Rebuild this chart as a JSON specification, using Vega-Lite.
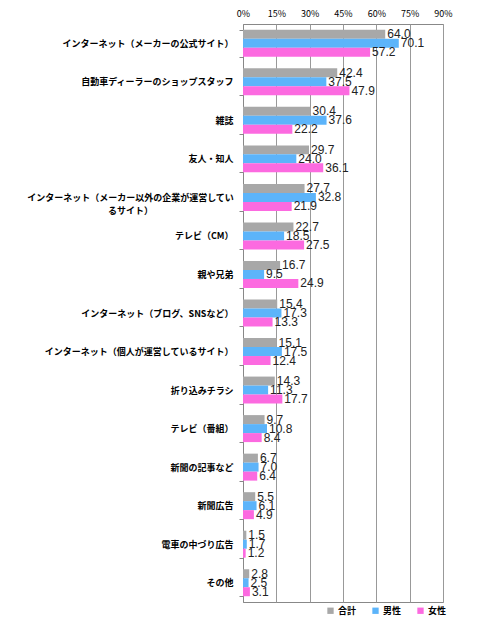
{
  "$schema": "https://vega.github.io/schema/vega-lite/v6.json",
  "width": 200,
  "height": 578,
  "autosize": {"type": "none"},
  "padding": {"left": 243, "top": 24, "right": 57, "bottom": 24},
  "background": "white",
  "config": {
    "view": {"stroke": "#888888", "strokeWidth": 1},
    "font": "Noto Sans CJK JP"
  },
  "data": {
    "values": [
      {"item": "インターネット（メーカーの公式サイト）", "group": "合計", "value": 64.0},
      {"item": "インターネット（メーカーの公式サイト）", "group": "男性", "value": 70.1},
      {"item": "インターネット（メーカーの公式サイト）", "group": "女性", "value": 57.2},
      {"item": "自動車ディーラーのショップスタッフ", "group": "合計", "value": 42.4},
      {"item": "自動車ディーラーのショップスタッフ", "group": "男性", "value": 37.5},
      {"item": "自動車ディーラーのショップスタッフ", "group": "女性", "value": 47.9},
      {"item": "雑誌", "group": "合計", "value": 30.4},
      {"item": "雑誌", "group": "男性", "value": 37.6},
      {"item": "雑誌", "group": "女性", "value": 22.2},
      {"item": "友人・知人", "group": "合計", "value": 29.7},
      {"item": "友人・知人", "group": "男性", "value": 24.0},
      {"item": "友人・知人", "group": "女性", "value": 36.1},
      {"item": "インターネット（メーカー以外の企業が運営しているサイト）", "group": "合計", "value": 27.7},
      {"item": "インターネット（メーカー以外の企業が運営しているサイト）", "group": "男性", "value": 32.8},
      {"item": "インターネット（メーカー以外の企業が運営しているサイト）", "group": "女性", "value": 21.9},
      {"item": "テレビ（CM）", "group": "合計", "value": 22.7},
      {"item": "テレビ（CM）", "group": "男性", "value": 18.5},
      {"item": "テレビ（CM）", "group": "女性", "value": 27.5},
      {"item": "親や兄弟", "group": "合計", "value": 16.7},
      {"item": "親や兄弟", "group": "男性", "value": 9.5},
      {"item": "親や兄弟", "group": "女性", "value": 24.9},
      {"item": "インターネット（ブログ、SNSなど）", "group": "合計", "value": 15.4},
      {"item": "インターネット（ブログ、SNSなど）", "group": "男性", "value": 17.3},
      {"item": "インターネット（ブログ、SNSなど）", "group": "女性", "value": 13.3},
      {"item": "インターネット（個人が運営しているサイト）", "group": "合計", "value": 15.1},
      {"item": "インターネット（個人が運営しているサイト）", "group": "男性", "value": 17.5},
      {"item": "インターネット（個人が運営しているサイト）", "group": "女性", "value": 12.4},
      {"item": "折り込みチラシ", "group": "合計", "value": 14.3},
      {"item": "折り込みチラシ", "group": "男性", "value": 11.3},
      {"item": "折り込みチラシ", "group": "女性", "value": 17.7},
      {"item": "テレビ（番組）", "group": "合計", "value": 9.7},
      {"item": "テレビ（番組）", "group": "男性", "value": 10.8},
      {"item": "テレビ（番組）", "group": "女性", "value": 8.4},
      {"item": "新聞の記事など", "group": "合計", "value": 6.7},
      {"item": "新聞の記事など", "group": "男性", "value": 7.0},
      {"item": "新聞の記事など", "group": "女性", "value": 6.4},
      {"item": "新聞広告", "group": "合計", "value": 5.5},
      {"item": "新聞広告", "group": "男性", "value": 6.1},
      {"item": "新聞広告", "group": "女性", "value": 4.9},
      {"item": "電車の中づり広告", "group": "合計", "value": 1.5},
      {"item": "電車の中づり広告", "group": "男性", "value": 1.7},
      {"item": "電車の中づり広告", "group": "女性", "value": 1.2},
      {"item": "その他", "group": "合計", "value": 2.8},
      {"item": "その他", "group": "男性", "value": 2.5},
      {"item": "その他", "group": "女性", "value": 3.1}
    ]
  },
  "encoding": {
    "y": {
      "field": "item",
      "type": "nominal",
      "sort": null,
      "scale": {"paddingInner": 0.3, "paddingOuter": 0.15},
      "axis": {
        "title": null,
        "labelFont": "Noto Sans CJK JP",
        "labelFontWeight": "bold",
        "labelFontSize": 9,
        "labelColor": "#000000",
        "labelLimit": 240,
        "labelAlign": {"condition": {"test": "datum.value == 'インターネット（メーカー以外の企業が運営しているサイト）'", "value": "center"}, "value": "right"},
        "labelPadding": {"condition": {"test": "datum.value == 'インターネット（メーカー以外の企業が運営しているサイト）'", "value": 109}, "value": 6},
        "tickBand": "extent",
        "tickSize": 4,
        "tickColor": "#888888",
        "domainColor": "#888888",
        "labelExpr": "datum.value == 'インターネット（メーカー以外の企業が運営しているサイト）' ? ['インターネット（メーカー以外の企業が運営してい', 'るサイト）'] : datum.value",
        "labelLineHeight": 13
      }
    },
    "yOffset": {"field": "group", "type": "nominal", "sort": ["合計", "男性", "女性"], "scale": {"paddingInner": 0, "paddingOuter": 0}},
    "x": {
      "field": "value",
      "type": "quantitative",
      "scale": {"domain": [0, 90], "nice": false},
      "axis": {
        "orient": "top",
        "title": null,
        "values": [0, 15, 30, 45, 60, 75, 90],
        "labelExpr": "datum.value + '%'",
        "labelFont": "Noto Sans CJK JP",
        "labelFontSize": 9,
        "labelColor": "#000000",
        "ticks": false,
        "domain": false,
        "labelPadding": 6,
        "grid": true,
        "gridColor": "#999999",
        "labelFlush": false
      }
    }
  },
  "layer": [
    {
      "mark": {"type": "bar", "stroke": null},
      "encoding": {
        "color": {
          "field": "group",
          "type": "nominal",
          "sort": ["合計", "男性", "女性"],
          "scale": {"domain": ["合計", "男性", "女性"], "range": ["#a8a8a8", "#5cb4fa", "#fc6ae0"]},
          "legend": {
            "title": null,
            "orient": "none",
            "direction": "horizontal",
            "legendX": 83,
            "legendY": 582,
            "symbolType": "square",
            "symbolSize": 40,
            "labelFont": "Noto Sans CJK JP",
            "labelFontWeight": "bold",
            "labelFontSize": 9,
            "labelColor": "#000000",
            "columnPadding": 14,
            "labelOffset": 3
          }
        }
      }
    },
    {
      "mark": {"type": "text", "align": "left", "baseline": "middle", "dx": 2, "font": "Liberation Sans", "fontSize": 12, "color": "#222222"},
      "encoding": {
        "text": {"field": "value", "type": "quantitative", "format": ".1f"}
      }
    }
  ]
}
